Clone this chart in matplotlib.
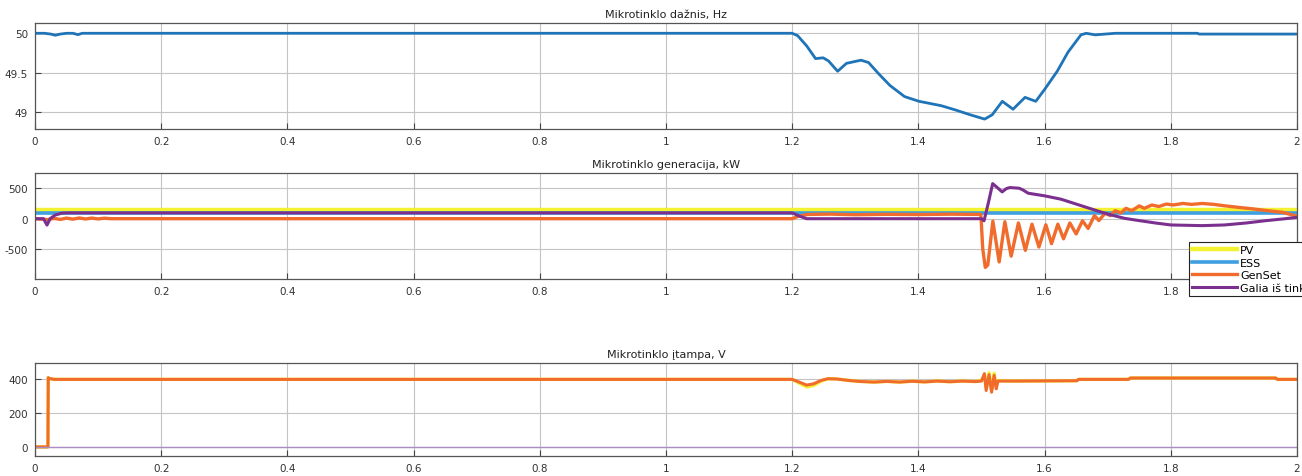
import matplotlib

matplotlib.use("Agg")
import matplotlib.pyplot as plt
from matplotlib.ticker import FuncFormatter

# frequency, Hz
t_freq = [0, 0.015, 0.025, 0.032, 0.04, 0.05, 0.06, 0.068, 0.075, 0.09,
          1.2, 1.2086, 1.223, 1.237, 1.249, 1.2576, 1.272, 1.286, 1.309, 1.321,
          1.338, 1.355, 1.378, 1.401, 1.436, 1.459, 1.482, 1.505, 1.517, 1.533,
          1.550, 1.569, 1.586, 1.600, 1.620, 1.637, 1.6576, 1.666, 1.68, 1.712,
          1.842, 1.845, 2.0]
freq_hz = [50.0, 50.0, 49.99, 49.975, 49.99, 50.0, 50.0, 49.983, 50.0, 50.0,
           50.0, 49.97, 49.84, 49.68, 49.69, 49.65, 49.52, 49.62, 49.66, 49.63,
           49.48, 49.34, 49.20, 49.14, 49.085, 49.03, 48.97, 48.915, 48.97, 49.14,
           49.04, 49.19, 49.14, 49.29, 49.52, 49.76, 49.98, 50.0, 49.98, 50.0,
           50.0, 49.99, 49.99]

# generation, kW
t_pv = [0, 2.0]
p_pv = [150, 150]
t_ess = [0, 2.0]
p_ess = [100, 100]
t_gen = [0, 0.02, 0.03, 0.04, 0.05, 0.06, 0.07, 0.08, 0.09, 0.10, 0.11, 0.12,
         1.2, 1.21, 1.225, 1.26, 1.30, 1.35, 1.40, 1.45, 1.499, 1.502, 1.506,
         1.510, 1.518, 1.528, 1.537, 1.547, 1.5585, 1.5695, 1.580, 1.591, 1.602,
         1.611, 1.621, 1.630, 1.640, 1.650, 1.660, 1.669, 1.679, 1.686, 1.696,
         1.704, 1.712, 1.721, 1.729, 1.738, 1.750, 1.758, 1.770, 1.781, 1.793,
         1.804, 1.819, 1.833, 1.850, 1.868, 1.885, 1.908, 1.931, 1.954, 1.977, 2.0]
p_gen = [0, -15, 5, -12, 10, -8, 12, -5, 10, -4, 8, 0,
         0, 40, 70, 75, 65, 72, 68, 74, 70, -500, -800,
         -760, -40, -710, -50, -615, -70, -520, -90, -465, -100,
         -410, -90, -330, -70, -250, -35, -160, 50, -30, 90,
         50, 130, 95, 170, 130, 210, 170, 225, 200, 240,
         225, 250, 235, 250, 235, 212, 185, 160, 130, 105, 40]
t_grid = [0, 0.0135, 0.019, 0.024, 0.032, 0.043, 0.054, 1.2, 1.212, 1.223,
          1.5, 1.504, 1.511, 1.5177, 1.525, 1.5327, 1.5396, 1.545, 1.5597, 1.5655,
          1.574, 1.6, 1.626, 1.65, 1.678, 1.70, 1.727, 1.751, 1.776, 1.80,
          1.85, 1.885, 1.919, 1.95, 1.977, 2.0]
p_grid = [0, 0, -105, 0, 60, 92, 95, 95, 40, 0,
          0, -35, 266, 576, 511, 440, 495, 511, 500, 473,
          418, 375, 320, 240, 147, 76, 5, -33, -71, -103,
          -114, -103, -71, -33, -5, 22]

# voltage, V
t_volt = [0, 0.0205, 0.021, 0.023, 0.03, 1.2, 1.211, 1.223, 1.234, 1.246,
          1.257, 1.271, 1.289, 1.306, 1.329, 1.35, 1.37, 1.39, 1.41, 1.43,
          1.45, 1.47, 1.49, 1.5, 1.5046, 1.5074, 1.512, 1.516, 1.520, 1.5234,
          1.526, 1.557, 1.651, 1.654, 1.733, 1.736, 1.966, 1.969, 2.0]
v_gen = [0, 0, 410, 405, 400, 400, 384, 366, 374, 394,
         404, 402, 394, 388, 384, 388, 384, 389, 385, 390,
         386, 390, 387, 390, 434, 334, 428, 324, 424, 344,
         390, 390, 392, 400, 400, 408, 408, 400, 400]
v_pv = [0, 0, 410, 405, 400, 400, 378, 355, 364, 390,
        404, 402, 394, 388, 384, 388, 384, 389, 385, 390,
        386, 390, 387, 395, 420, 350, 440, 338, 436, 362,
        392, 390, 392, 400, 400, 408, 408, 400, 400]
t_volt_grid = [0, 2.0]
v_grid = [0, 0]

x_ticks = [0, 0.2, 0.4, 0.6, 0.8, 1.0, 1.2, 1.4, 1.6, 1.8, 2.0]
legend_labels = ["PV", "ESS", "GenSet", "Galia iš tinklo"]

c_freq = "#1f74b8"
c_pv = "#f2f230"
c_ess = "#3f9fe0"
c_gen = "#f06b2c"
c_grid = "#7b2f8e"

plt.rcParams["font.family"] = ["DejaVu Sans"]
plt.rcParams["axes.unicode_minus"] = False
fig = plt.figure(figsize=(13.02, 4.77), dpi=100)
W, H = 1302, 477


def _axes(top, bottom):
    return fig.add_axes([35 / W, 1 - bottom / H, 1262 / W, (bottom - top) / H])


ax1 = _axes(24, 130)
ax2 = _axes(174, 280)
ax3 = _axes(364, 457)

ax1.plot(t_freq, freq_hz, color=c_freq, lw=2.0)
ax1.set_ylim(48.79, 50.13)
ax1.set_yticks([49, 49.5, 50])
ax1.set_title("Mikrotinklo dažnis, Hz", fontsize=8, pad=4, color="#222222")

l_pv, = ax2.plot(t_pv, p_pv, color=c_pv, lw=3.2)
l_ess, = ax2.plot(t_ess, p_ess, color=c_ess, lw=2.6)
l_gen, = ax2.plot(t_gen, p_gen, color=c_gen, lw=2.4)
l_grid, = ax2.plot(t_grid, p_grid, color=c_grid, lw=2.2)
ax2.set_ylim(-990, 750)
ax2.set_yticks([-500, 0, 500])
ax2.set_title("Mikrotinklo generacija, kW", fontsize=8, pad=4, color="#222222")

ax3.plot(t_volt, v_pv, color=c_pv, lw=2.4)
ax3.plot(t_volt, v_gen, color=c_gen, lw=2.2)
ax3.plot(t_volt_grid, v_grid, color="#a98cc4", lw=1.0)
ax3.set_ylim(-54, 497)
ax3.set_yticks([0, 200, 400])
ax3.set_title("Mikrotinklo įtampa, V", fontsize=8, pad=4, color="#222222")

fmt = FuncFormatter(lambda v, _: f"{v:g}")
for ax in (ax1, ax2, ax3):
    ax.set_xlim(0, 2)
    ax.set_xticks(x_ticks)
    ax.xaxis.set_major_formatter(fmt)
    ax.yaxis.set_major_formatter(fmt)
    ax.tick_params(direction="in", length=4, width=0.8, labelsize=7.5,
                   colors="#444444", labelcolor="#333333", pad=5)
    ax.grid(True, color="#c4c4c4", lw=0.8)
    ax.set_axisbelow(True)
    for s in ax.spines.values():
        s.set_color("#555555")
        s.set_linewidth(0.9)

leg = ax2.legend([l_pv, l_ess, l_gen, l_grid], legend_labels,
                 loc="upper left", bbox_to_anchor=(1189 / W, 1 - 243 / H),
                 bbox_transform=fig.transFigure, fontsize=8, frameon=True,
                 fancybox=False, edgecolor="#222222", framealpha=1,
                 handlelength=4.0, handletextpad=0.3, labelspacing=0.22,
                 borderpad=0.3, borderaxespad=0)
leg.get_frame().set_linewidth(0.8)

fig.savefig("out.png", dpi=100)
